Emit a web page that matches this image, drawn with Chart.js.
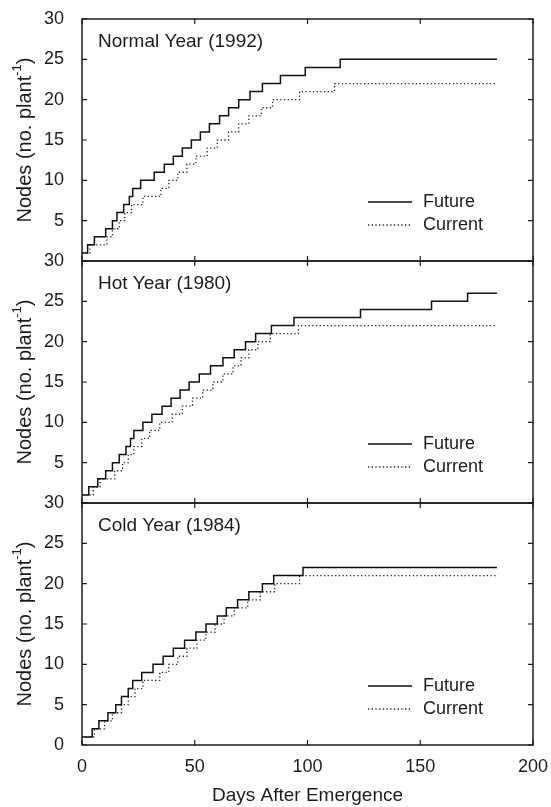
<!DOCTYPE html>
<html>
<head>
<meta charset="utf-8">
<script src="https://cdn.jsdelivr.net/npm/chart.js@4.4.0/dist/chart.umd.min.js"></script>
<style>
  body { margin: 0; background: #fff; }
  #wrap { position: relative; width: 551px; height: 807px; }
  #wrap canvas { position: absolute; left: 0; top: 0; }
</style>
</head>
<body>
<div id="wrap">
  <canvas id="c0" width="551" height="807"></canvas>
  <canvas id="c1" width="551" height="807"></canvas>
  <canvas id="c2" width="551" height="807"></canvas>
</div>
<script>
// day on which each node count was reached (last entry = end of run)
const normalFutureDay  = [0, 2.5, 5.5, 10.5, 13.5, 15.5, 18.5, 21, 22.5, 26, 32, 36.5, 40.5, 44.5, 48.5, 52.5, 56.5, 61, 65, 69.5, 74.5, 80, 88, 99, 114.5, 184];
const normalFutureNode = [1, 2, 3, 4, 5, 6, 7, 8, 9, 10, 11, 12, 13, 14, 15, 16, 17, 18, 19, 20, 21, 22, 23, 24, 25, 25];
const normalCurrentDay  = [0, 3.5, 11, 13.5, 16.5, 19, 22, 27, 35, 38.5, 42.5, 46.5, 50.5, 55.5, 60, 65, 69.5, 74, 79.5, 84.5, 96.5, 112, 184];
const normalCurrentNode = [1, 2, 3, 4, 5, 6, 7, 8, 9, 10, 11, 12, 13, 14, 15, 16, 17, 18, 19, 20, 21, 22, 22];

const hotFutureDay  = [0, 3, 7, 10.5, 13.5, 16.5, 19.5, 21.5, 23, 27, 31, 35.5, 39.5, 43.5, 47.5, 52, 57, 62.5, 67.5, 72.5, 77, 84, 94, 123.5, 155, 171, 184];
const hotFutureNode = [1, 2, 3, 4, 5, 6, 7, 8, 9, 10, 11, 12, 13, 14, 15, 16, 17, 18, 19, 20, 21, 22, 23, 24, 25, 26, 26];
const hotCurrentDay  = [0, 5, 8, 14.5, 18, 20.5, 23, 26.5, 30, 34.5, 40, 44.5, 49, 53.5, 58, 62.5, 67, 70.5, 74, 78, 83.5, 96, 184];
const hotCurrentNode = [1, 2, 3, 4, 5, 6, 7, 8, 9, 10, 11, 12, 13, 14, 15, 16, 17, 18, 19, 20, 21, 22, 22];

const coldFutureDay  = [0, 4.5, 7.5, 11.5, 15, 17.5, 20.5, 22.5, 26.5, 31.5, 36, 40.5, 45.5, 50.5, 55, 60, 64, 69, 74, 80, 85, 98, 184];
const coldFutureNode = [1, 2, 3, 4, 5, 6, 7, 8, 9, 10, 11, 12, 13, 14, 15, 16, 17, 18, 19, 20, 21, 22, 22];
const coldCurrentDay  = [0, 5.5, 10, 13.5, 17.5, 20.5, 23.5, 27, 34.5, 38.5, 42.5, 46.5, 51, 55, 59, 63, 67.5, 73.5, 79, 85.5, 96.5, 184];
const coldCurrentNode = [1, 2, 3, 4, 5, 6, 7, 8, 9, 10, 11, 12, 13, 14, 15, 16, 17, 18, 19, 20, 21, 21];

const panelTitles = ['Normal Year (1992)', 'Hot Year (1980)', 'Cold Year (1984)'];
const seriesNames = ['Future', 'Current'];
const xTicks = [0, 50, 100, 150, 200];
const yTicks = [0, 5, 10, 15, 20, 25, 30];

const FONT = '"Liberation Sans", Arial, Helvetica, sans-serif';
const INK = '#1c1c1c';
Chart.defaults.font.family = FONT;
Chart.defaults.font.size = 18;
Chart.defaults.color = INK;

const tops = [19, 261, 503];
const bottoms = [261, 503, 745];

function pts(days, nodes) {
  return days.map((d, i) => ({x: d, y: nodes[i]}));
}

// frame, inward ticks, panel title, legend and y title
const framePlugin = {
  id: 'frame',
  afterDatasetsDraw(chart, args, opts) {
    const {ctx, chartArea: a, scales} = chart;
    ctx.save();
    ctx.strokeStyle = INK;
    ctx.lineWidth = 1.5;
    ctx.strokeRect(a.left, a.top, a.right - a.left, a.bottom - a.top);
    ctx.lineWidth = 1.2;
    ctx.beginPath();
    xTicks.forEach(v => {
      const px = scales.x.getPixelForValue(v);
      ctx.moveTo(px, a.bottom); ctx.lineTo(px, a.bottom - 5);
      ctx.moveTo(px, a.top); ctx.lineTo(px, a.top + 5);
    });
    yTicks.forEach(v => {
      const py = scales.y.getPixelForValue(v);
      ctx.moveTo(a.left, py); ctx.lineTo(a.left + 5, py);
      ctx.moveTo(a.right, py); ctx.lineTo(a.right - 5, py);
    });
    ctx.stroke();

    ctx.fillStyle = INK;
    ctx.font = '19px ' + FONT;
    ctx.textBaseline = 'middle';
    ctx.textAlign = 'left';
    ctx.fillText(opts.title, a.left + 16, a.top + 23);

    // legend
    ctx.font = '18px ' + FONT;
    chart.data.datasets.forEach((ds, i) => {
      const y = a.top + 183 + i * 23;
      ctx.save();
      ctx.strokeStyle = ds.borderColor;
      ctx.lineWidth = ds.borderWidth;
      ctx.setLineDash(ds.borderDash || []);
      ctx.beginPath();
      ctx.moveTo(368, y); ctx.lineTo(412, y);
      ctx.stroke();
      ctx.restore();
      ctx.fillText(ds.label, 423, y);
    });

    // y title with superscript
    const main = 'Nodes (no. plant', sup = '-1', end = ')';
    ctx.font = '20px ' + FONT;
    const w1 = ctx.measureText(main).width, w3 = ctx.measureText(end).width;
    ctx.font = '13px ' + FONT;
    const w2 = ctx.measureText(sup).width;
    const w = w1 + w2 + w3;
    ctx.translate(25, (a.top + a.bottom) / 2);
    ctx.rotate(-Math.PI / 2);
    ctx.textAlign = 'left';
    ctx.font = '20px ' + FONT;
    ctx.fillText(main, -w / 2, 0);
    ctx.font = '13px ' + FONT;
    ctx.fillText(sup, -w / 2 + w1, -8);
    ctx.font = '20px ' + FONT;
    ctx.fillText(end, -w / 2 + w1 + w2, 0);
    ctx.restore();
  }
};

const panels = [
  [pts(normalFutureDay, normalFutureNode), pts(normalCurrentDay, normalCurrentNode)],
  [pts(hotFutureDay, hotFutureNode), pts(hotCurrentDay, hotCurrentNode)],
  [pts(coldFutureDay, coldFutureNode), pts(coldCurrentDay, coldCurrentNode)]
];

panels.forEach((series, i) => {
  const last = i === 2;
  new Chart(document.getElementById('c' + i), {
    type: 'line',
    data: {
      datasets: [
        {
          label: seriesNames[0],
          data: series[0],
          stepped: true,
          borderColor: '#111',
          borderWidth: 1.5,
          pointRadius: 0,
          fill: false
        },
        {
          label: seriesNames[1],
          data: series[1],
          stepped: true,
          borderColor: '#222',
          borderWidth: 1.3,
          borderDash: [1.3, 2.4],
          pointRadius: 0,
          fill: false
        }
      ]
    },
    options: {
      responsive: false,
      animation: false,
      events: [],
      layout: {
        padding: {left: 0, right: 18, top: tops[i], bottom: last ? 0 : 807 - bottoms[i]}
      },
      plugins: {
        legend: {display: false},
        tooltip: {enabled: false},
        frame: {title: panelTitles[i]}
      },
      scales: {
        x: {
          type: 'linear',
          display: last,
          min: 0,
          max: 200,
          afterBuildTicks: s => { s.ticks = xTicks.map(v => ({value: v})); },
          ticks: {padding: 3, maxRotation: 0},
          grid: {display: false},
          border: {display: false},
          title: {display: true, text: 'Days After Emergence', font: {size: 19}, padding: {top: 0, bottom: 0}},
          afterFit: s => {
            s.height = last ? 807 - bottoms[2] : 0;
            s.paddingLeft = 0;
            s.paddingRight = 0;
          }
        },
        y: {
          min: 0,
          max: 30,
          afterBuildTicks: s => { s.ticks = yTicks.map(v => ({value: v})); },
          ticks: {
            padding: 10,
            callback: v => (!last && v === 0) ? '' : v
          },
          grid: {display: false},
          border: {display: false},
          afterFit: s => {
            s.width = 82;
            s.paddingTop = 0;
            s.paddingBottom = 0;
          }
        }
      }
    },
    plugins: [framePlugin]
  });
});
</script>
</body>
</html>
